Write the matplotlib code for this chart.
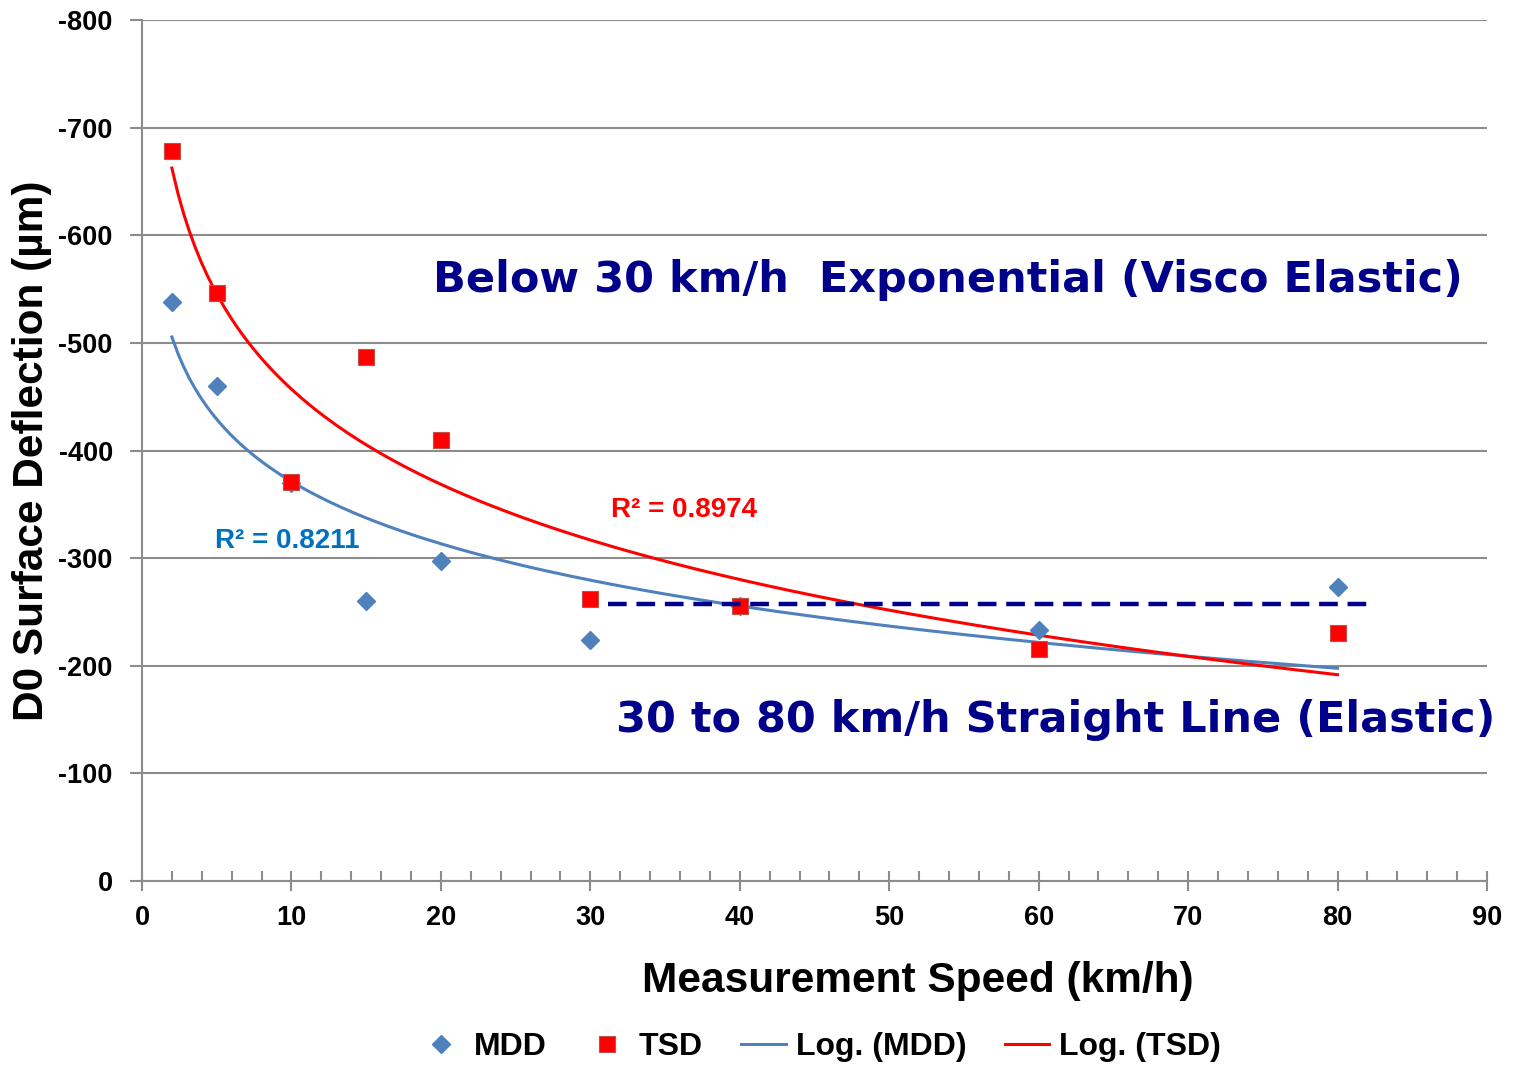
import numpy as np
import matplotlib
matplotlib.use('Agg')
import matplotlib.pyplot as plt
from matplotlib.ticker import MultipleLocator

plt.rcParams['font.family'] = ['Liberation Sans', 'DejaVu Sans']
plt.rcParams['axes.unicode_minus'] = False

speed = [2, 5, 10, 15, 20, 30, 40, 60, 80]
mdd = [-538, -460, -370, -260, -297, -224, -256, -233, -273]
tsd = [-678, -546, -371, -487, -410, -262, -256, -216, -230]

r2_mdd_text = 'R\u00b2 = 0.8211'
r2_tsd_text = 'R\u00b2 = 0.8974'
elastic_level = -257
elastic_span = [31.2, 82]

GRID = '#8c8c8c'
BLUE = '#4f81bd'
RED = '#ff0000'
NAVY = '#00008b'


def log_fit(x, y):
  a, b = np.polyfit(np.log(x), y, 1)
  xs = np.linspace(min(x), max(x), 200)
  return xs, a * np.log(xs) + b


fig = plt.figure(figsize=(15.17, 10.70), dpi=100)
ax = fig.add_axes([0.0936, 0.1766, 0.8866, 0.8047])

ax.grid(axis='y', color=GRID, linewidth=1.5)
ax.set_axisbelow(True)

xs, ys = log_fit(speed, mdd)
ax.plot(xs, ys, color=BLUE, linewidth=2.2, label='Log. (MDD)', zorder=2)
xs, ys = log_fit(speed, tsd)
ax.plot(xs, ys, color=RED, linewidth=2.2, label='Log. (TSD)', zorder=2)

ax.plot(speed, mdd, linestyle='none', marker='D', markersize=9.5, color=BLUE,
        label='MDD', zorder=3)
ax.plot(speed, tsd, linestyle='none', marker='s', markersize=11.5, color=RED,
        markeredgecolor='#c0504d', markeredgewidth=0.8, label='TSD', zorder=3)

ax.plot(elastic_span, [elastic_level, elastic_level], color=NAVY, linewidth=3.2,
        dashes=(4.2, 2.2), zorder=4)

ax.set_xlim(0, 90)
ax.set_ylim(0, -800)
ax.xaxis.set_major_locator(MultipleLocator(10))
ax.xaxis.set_minor_locator(MultipleLocator(2))
ax.yaxis.set_major_locator(MultipleLocator(100))

for s in ['top', 'right']:
  ax.spines[s].set_visible(False)
for s in ['left', 'bottom']:
  ax.spines[s].set_color(GRID)
  ax.spines[s].set_linewidth(1.5)

ax.tick_params(axis='x', which='major', direction='inout', length=15, width=1.5,
               color=GRID, pad=10, labelsize=19.5)
ax.tick_params(axis='x', which='minor', direction='in', length=7, width=1.5, color=GRID)
ax.tick_params(axis='y', which='major', direction='out', length=9, width=1.5,
               color=GRID, pad=12, labelsize=19.5)
for lbl in ax.get_xticklabels() + ax.get_yticklabels():
  lbl.set_fontweight('bold')

ax.set_xlabel('Measurement Speed (km/h)', fontsize=30.5, fontweight='bold')
ax.xaxis.set_label_coords(0.577, -0.093)
ax.set_ylabel('D0 Surface Deflection (\u00b5m)', fontsize=30.5, fontweight='bold', labelpad=5)

ax.text(4.88, -316, r2_mdd_text, color='#0070c0', fontsize=20, fontweight='bold',
        ha='left', va='center')
ax.text(31.38, -345, r2_tsd_text, color=RED, fontsize=20, fontweight='bold',
        ha='left', va='center')

ax.text(19.47, -558, 'Below 30 km/h  Exponential (Visco Elastic)', color=NAVY,
        fontsize=31, fontweight='bold', family='DejaVu Sans', ha='left', va='center')
ax.text(31.72, -150, '30 to 80 km/h Straight Line (Elastic)', color=NAVY,
        fontsize=31, fontweight='bold', family='DejaVu Sans', ha='left', va='center')

handles, labels = ax.get_legend_handles_labels()
order = [2, 3, 0, 1]
leg = fig.legend([handles[i] for i in order], [labels[i] for i in order],
                 loc='center', bbox_to_anchor=(0.5405, 0.0215), ncol=4, frameon=False,
                 prop={'size': 23, 'weight': 'bold'}, handlelength=1.4,
                 columnspacing=1.2, handletextpad=0.3)

fig.savefig('out.png', dpi=100)
